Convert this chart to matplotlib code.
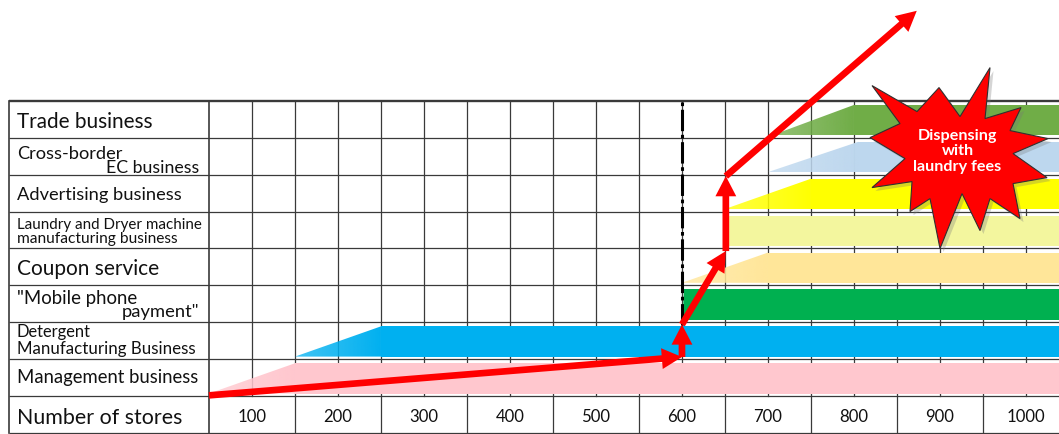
import numpy as np
import matplotlib
matplotlib.use("Agg")
import matplotlib.pyplot as plt
import matplotlib.patheffects as pe
from matplotlib.colors import to_rgba
from matplotlib.patches import Polygon, FancyArrowPatch, ArrowStyle
from matplotlib.transforms import Affine2D, ScaledTranslation

plt.rcParams['font.family'] = ['Lato', 'DejaVu Sans']

# business lines, bottom row first (row 0 is the store count axis)
businesses = [
    "Management business",
    "Detergent\nManufacturing Business",
    "\"Mobile phone\npayment\"",
    "Coupon service",
    "Laundry and Dryer machine\nmanufacturing business",
    "Advertising business",
    "Cross-border\nEC business",
    "Trade business",
]
# store count where each business starts, and where it is fully rolled out
start_stores = [50, 150, 600, 600, 650, 650, 700, 705]
full_stores = [150, 250, 602, 700, 652, 750, 805, 800]
band_colors = ["#FFC7CE", "#00B0F0", "#00B050", "#FFE699",
               "#F3F69E", "#FFFF00", "#BDD7EE", "#70AD47"]

store_ticks = [100, 200, 300, 400, 500, 600, 700, 800, 900, 1000]
axis_title = "Number of stores"

# growth path: store count vs. business level (in rows)
path_stores = [50, 600, 600, 651, 651, 873]
path_level = [1.02, 2.06, 2.94, 4.93, 6.96, 11.44]

callout = "Dispensing\nwith\nlaundry fees"

X_OUTER = -182.6   # left border of the table
X_LABEL = 50       # end of the label column
X_END = 1060
N_ROWS = len(businesses) + 1
GRID = "#3a3a3a"

fig = plt.figure(figsize=(10.59, 4.35), dpi=100)
ax = fig.add_axes([0, 0, 1, 1])
ax.axis('off')


def set_limits():
    ax.set_xlim(-193.0, 1038.4)
    ax.set_ylim(-0.027, 11.76)


set_limits()
renderer = fig.canvas.get_renderer()

# table grid
for k in range(N_ROWS + 1):
    ax.plot([X_OUTER, X_END], [k, k], color=GRID,
            lw=1.7 if k == N_ROWS else 0.9, zorder=1, solid_capstyle='butt')
for x in (X_OUTER, X_LABEL):
    ax.plot([x, x], [0, N_ROWS], color=GRID, lw=1.2, zorder=1)
for x in range(100, 1051, 50):
    y0 = 0 if x % 100 == 50 else 1
    ax.plot([x, x], [y0, N_ROWS], color=GRID, lw=0.9, zorder=1)


def band(row, x0, x1, color, lo=0.07, hi=0.89):
    y0, y1 = row + lo, row + hi
    ax.add_patch(Polygon([(x1, y0), (x1, y1), (X_END, y1), (X_END, y0)],
                         closed=True, fc=color, lw=0, zorder=2))
    if x1 <= x0:
        return
    ramp = Polygon([(x0, y0), (x1, y1), (x1, y0)], closed=True,
                   fc='none', lw=0)
    ax.add_patch(ramp)
    rgba = np.tile(np.array(to_rgba(color)), (1, 64, 1))
    rgba[..., 3] = np.linspace(0.75, 1.0, 64)
    im = ax.imshow(rgba, extent=[x0, x1 + 0.5, y0, y1], aspect='auto',
                   interpolation='bilinear', zorder=2)
    im.set_clip_path(ramp)


for i, (x0, x1, c) in enumerate(zip(start_stores, full_stores, band_colors)):
    band(i + 1, x0, x1, c)
set_limits()

# launch of the in-store services
ax.plot([600, 600], [path_level[2], N_ROWS], color='black', lw=2.2,
        ls=(0, (7, 1.2, 1.2, 1.2)), zorder=3)


def fit_text(x, y, s, width_px, ha='left', **kw):
    t = ax.text(x, y, s, ha=ha, va='baseline', fontsize=12, zorder=4,
                color='#111111', **kw)
    w = t.get_window_extent(renderer).width
    t.set_fontsize(12 * width_px / w)
    return t


# row labels: baseline offset inside the row, target width in px, alignment
label_layout = {
    "Management business": (0.38, 181, 'left'),
    "Detergent": (0.62, 74, 'left'),
    "Manufacturing Business": (0.18, 177, 'left'),
    "\"Mobile phone": (0.53, 120, 'left'),
    "payment\"": (0.16, 77, 'right'),
    "Coupon service": (0.32, 142, 'left'),
    "Laundry and Dryer machine": (0.55, 184, 'left'),
    "manufacturing business": (0.17, 160, 'left'),
    "Advertising business": (0.33, 164, 'left'),
    "Cross-border": (0.44, 105, 'left'),
    "EC business": (0.07, 93, 'right'),
    "Trade business": (0.30, 135, 'left'),
}
for i, name in enumerate(businesses):
    for line in name.split("\n"):
        off, width, ha = label_layout[line]
        x = 38.4 if ha == 'right' else -173.3
        fit_text(x, i + 1 + off, line, width, ha=ha)

fit_text(-173.3, 0.27, axis_title, 164)
tick = fit_text(store_ticks[0], 0.32, str(store_ticks[0]), 29, ha='center')
for s in store_ticks[1:]:
    ax.text(s, 0.32, str(s), ha='center', va='baseline', color='#111111',
            fontsize=tick.get_fontsize(), zorder=4)

# red growth arrows
head = ArrowStyle.Simple(head_length=14.5, head_width=15, tail_width=4.8)
for a, b in zip(zip(path_stores[:-1], path_level[:-1]),
                zip(path_stores[1:], path_level[1:])):
    ax.add_patch(FancyArrowPatch(a, b, arrowstyle=head, mutation_scale=1,
                                 color='red', lw=0, shrinkA=0, shrinkB=0,
                                 zorder=5))

# starburst callout (outline in pixels around its centre, y pointing down)
star_px = [(30, -89), (25, -38), (61, -49), (50, -26), (88, -18), (53, -3),
           (87, 21), (53, 27), (60, 62), (30, 42), (20, 74), (2, 37),
           (-20, 92), (-30, 42), (-50, 55), (-48, 25), (-88, 31), (-55, 2),
           (-90, -19), (-60, -33), (-88, -71), (-43, -45), (-21, -69),
           (0, -40)]
star_tf = Affine2D().scale(1, -1) + ScaledTranslation(923.3, 7.49, ax.transData)
star = Polygon(star_px, closed=True, fc='#FF0000', ec='#303030', lw=0.8,
               transform=star_tf, zorder=6)
star.set_path_effects([pe.SimplePatchShadow(offset=(2.5, -2.5),
                                            shadow_rgbFace='#777777',
                                            alpha=0.3), pe.Normal()])
ax.add_patch(star)

msg = ax.text(920.5, 7.66, callout, ha='center', va='center', color='white',
              fontweight='bold', fontsize=12, linespacing=1.12, zorder=7)
msg.set_fontsize(12 * 88 / msg.get_window_extent(renderer).width)

fig.savefig("out.png", dpi=100)
